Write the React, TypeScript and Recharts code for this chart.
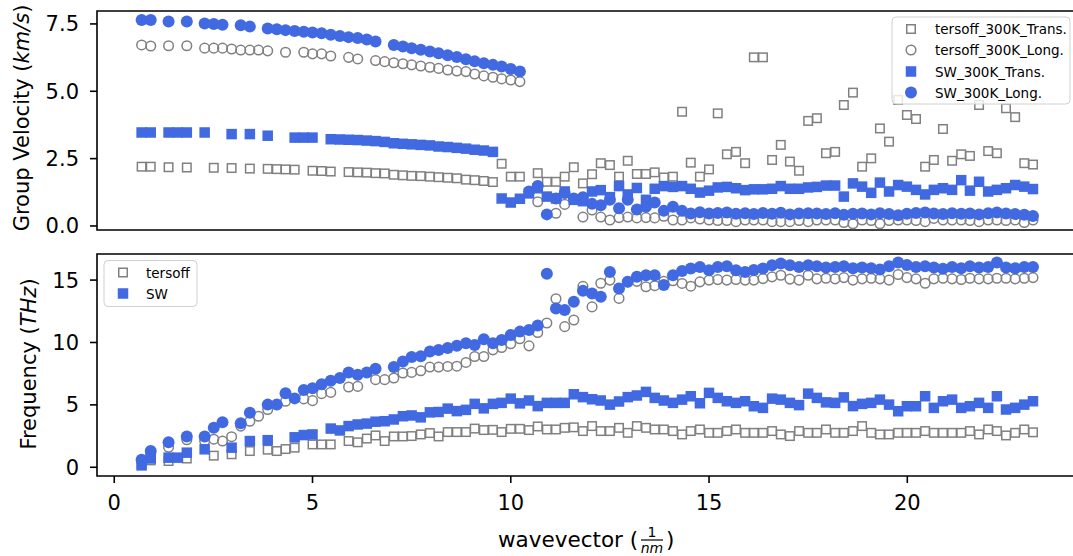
import React from "react"
import { ScatterChart, Scatter, XAxis, YAxis, ReferenceArea } from "recharts"

const FONT = "'DejaVu Sans', sans-serif"
const GREY = "#808080"
const BLUE = "#4169E1"

// wavevector grid (1/nm), shared by every series
const WAVEVECTOR = [
  0.69, 0.92, 1.14, 1.37, 1.6, 1.83, 2.05, 2.28, 2.51, 2.73,
  2.96, 3.19, 3.42, 3.64, 3.87, 4.1, 4.32, 4.55, 4.78, 5.0,
  5.23, 5.46, 5.69, 5.91, 6.14, 6.37, 6.59, 6.82, 7.05, 7.28,
  7.5, 7.73, 7.96, 8.18, 8.41, 8.64, 8.87, 9.09, 9.32, 9.55,
  9.77, 10.0, 10.23, 10.46, 10.68, 10.91, 11.14, 11.36, 11.59, 11.82,
  12.05, 12.27, 12.5, 12.73, 12.95, 13.18, 13.41, 13.63, 13.86, 14.09,
  14.32, 14.54, 14.77, 15.0, 15.22, 15.45, 15.68, 15.91, 16.13, 16.36,
  16.59, 16.81, 17.04, 17.27, 17.5, 17.72, 17.95, 18.18, 18.4, 18.63,
  18.86, 19.09, 19.31, 19.54, 19.77, 19.99, 20.22, 20.45, 20.67, 20.9,
  21.13, 21.36, 21.58, 21.81, 22.04, 22.26, 22.49, 22.72, 22.95, 23.17,
]

// group velocity (km/s)
const GV_TERSOFF_TRANS = [
  2.2, 2.2, null, 2.18, null, 2.17, null, null, 2.16, null,
  2.15, null, 2.13, null, 2.12, 2.11, 2.1, 2.09, null, 2.05,
  2.04, 2.02, null, 2.0, 1.99, 1.98, 1.96, 1.95, 1.9, 1.88,
  1.86, 1.85, 1.83, 1.81, 1.79, 1.77, 1.72, 1.7, 1.67, 1.63,
  2.31, 1.83, 1.83, null, 1.96, 1.64, 1.64, 1.83, 2.18, 1.58,
  1.92, 2.33, 2.26, 1.83, 2.42, 1.93, 1.93, 1.99, 1.8, 1.83,
  4.24, 2.35, 1.83, 2.1, 4.18, 2.66, 2.75, 2.33, 6.26, 6.26,
  2.45, 3.01, 2.39, 2.05, 3.9, 4.0, 2.7, 2.75, 4.49, 4.95,
  2.2, 2.51, 3.62, 3.13, 4.68, 4.12, 3.97, 2.2, 2.45, 3.6,
  2.42, 2.66, 2.6, 4.49, 2.78, 2.7, 4.37, 4.04, 2.33, 2.28,
]
const GV_TERSOFF_LONG = [
  6.72, 6.68, null, 6.69, null, 6.69, null, 6.6, 6.6, 6.6,
  6.57, 6.53, 6.53, 6.53, 6.5, null, 6.45, null, 6.45, 6.39,
  6.39, 6.31, null, 6.26, 6.2, null, 6.14, 6.1, 6.06, 6.02,
  5.98, 5.94, 5.89, 5.85, 5.79, 5.75, 5.73, 5.64, 5.57, 5.52,
  5.46, 5.42, 5.36, null, 0.9, null, 0.47, 0.8, null, 0.33,
  0.59, 0.33, 0.22, 0.31, 0.33, 0.3, 0.31, 0.3, 0.36, 0.22,
  0.22, 0.3, 0.26, 0.22, 0.2, 0.2, 0.16, 0.22, 0.22, 0.22,
  0.16, 0.16, 0.16, 0.2, 0.16, 0.22, 0.22, 0.22, 0.13, 0.08,
  0.22, 0.2, 0.08, 0.2, 0.22, 0.22, 0.2, 0.16, 0.28, 0.22,
  0.22, 0.22, 0.2, 0.16, 0.22, 0.22, 0.2, 0.22, 0.13, 0.22,
]
const GV_SW_TRANS = [
  3.47, 3.47, null, 3.47, 3.47, 3.47, null, 3.47, null, null,
  3.41, null, 3.41, null, 3.35, null, null, 3.28, 3.28, 3.28,
  null, 3.22, 3.21, 3.2, 3.19, 3.17, 3.15, 3.12, 3.07, 3.05,
  3.03, 3.01, 2.99, 2.95, 2.93, 2.9, 2.87, 2.83, 2.8, 2.75,
  1.02, 0.87, 1.01, 1.21, 1.4, 1.09, 1.02, 1.28, 0.97, 0.92,
  1.28, 1.33, 1.07, 1.48, 1.17, 1.41, 0.97, 1.38, 1.48, 1.45,
  1.48, 1.38, 1.24, 1.31, 1.43, 1.45, 1.4, 1.33, 1.36, 1.36,
  1.38, 1.48, 1.38, 1.38, 1.43, 1.45, 1.5, 1.5, 1.09, 1.58,
  1.46, 1.23, 1.61, 1.28, 1.52, 1.46, 1.34, 1.17, 1.34, 1.4,
  1.34, 1.7, 1.31, 1.64, 1.28, 1.34, 1.4, 1.52, 1.46, 1.37,
]
const GV_SW_LONG = [
  7.65, 7.65, null, 7.59, null, 7.59, null, 7.52, 7.5, 7.47,
  null, 7.45, 7.4, null, 7.33, 7.3, 7.27, 7.24, 7.21, 7.18,
  7.15, 7.1, 7.05, 7.01, 6.98, 6.92, 6.85, null, 6.72, 6.66,
  6.6, 6.54, 6.48, 6.41, 6.34, 6.27, 6.19, 6.11, 6.04, 5.98,
  5.92, 5.83, 5.73, 1.28, 1.48, 0.43, 1.02, 1.22, 1.02, 1.07,
  0.82, 0.77, 0.97, 0.66, 0.97, 0.61, 0.71, 0.87, 0.56, 0.71,
  0.56, 0.46, 0.51, 0.46, 0.48, 0.5, 0.45, 0.47, 0.44, 0.48,
  0.45, 0.49, 0.43, 0.46, 0.47, 0.46, 0.44, 0.47, 0.42, 0.45,
  0.46, 0.43, 0.47, 0.44, 0.4, 0.45, 0.48, 0.5, 0.46, 0.44,
  0.47, 0.45, 0.46, 0.43, 0.47, 0.5, 0.46, 0.44, 0.42, 0.37,
]

// frequency (THz)
const FREQ_TERSOFF_TRANS = [
  0.25, 0.55, null, 0.5, null, 0.7, null, null, 0.93, null,
  1.04, null, 1.3, null, 1.41, 1.3, 1.46, 1.57, null, 1.83,
  1.83, 1.83, null, 2.1, 2.0, 2.3, 2.55, 2.1, 2.47, 2.47,
  2.5, 2.63, 2.74, 2.47, 2.82, 2.82, 2.82, 3.1, 2.98, 3.0,
  2.82, 3.08, 3.08, 2.98, 3.27, 3.03, 3.03, 3.16, 3.2, 2.9,
  3.3, 2.9, 2.9, 3.16, 2.76, 3.3, 3.16, 3.03, 3.03, 2.9,
  2.63, 2.9, 3.03, 2.76, 2.76, 2.9, 3.03, 2.76, 2.76, 2.76,
  2.9, 2.63, 2.5, 2.9, 2.76, 2.76, 3.03, 2.76, 2.76, 2.9,
  3.3, 2.76, 2.63, 2.63, 2.76, 2.76, 2.76, 2.9, 2.76, 2.76,
  2.76, 2.76, 2.9, 2.63, 3.03, 2.9, 2.55, 2.76, 3.03, 2.8,
]
const FREQ_TERSOFF_LONG = [
  0.5, 1.1, null, 1.6, null, 2.2, null, 2.1, 2.25, 2.1,
  2.45, 3.3, 3.69, 4.09, 4.63, 5.02, 5.29, null, 5.48, 5.34,
  5.9, 6.0, null, 6.43, 6.48, null, 7.02, 7.02, 7.15, 7.55,
  7.6, 7.73, 8.03, 8.03, 8.08, 8.1, 8.4, 8.88, 8.88, 9.41,
  9.6, 9.9, 10.3, 9.73, 10.8, 11.56, 13.5, 11.27, 11.8, 14.5,
  12.85, 14.75, 15.0, 13.53, 14.86, 14.9, 14.46, 14.55, 14.9, 14.95,
  14.73, 14.51, 14.86, 15.0, 15.04, 15.0, 15.05, 15.0, 15.0, 15.12,
  15.26, 15.39, 15.08, 15.0, 15.39, 15.1, 15.15, 15.1, 15.2, 15.0,
  15.1, 15.15, 15.1, 15.0, 15.45, 15.2, 15.1, 14.75, 15.1, 15.15,
  15.1, 15.05, 15.15, 15.1, 15.1, 15.15, 15.15, 15.1, 15.15, 15.2,
]
const FREQ_SW_TRANS = [
  0.15, 0.7, null, 0.77, 0.77, 1.17, null, 1.44, null, null,
  1.57, null, 2.1, null, 2.17, null, null, 2.4, 2.58, 2.63,
  null, 3.1, 2.95, 3.3, 3.43, 3.5, 3.65, 3.69, 3.83, 4.09,
  4.15, 4.0, 4.4, 4.43, 4.7, 4.5, 4.6, 5.08, 4.72, 5.08,
  5.16, 5.5, 5.12, 5.35, 4.9, 5.16, 5.16, 5.16, 5.85, 5.62,
  5.45, 5.35, 5.02, 5.27, 5.62, 5.75, 6.04, 5.56, 5.35, 5.16,
  5.42, 5.69, 5.13, 5.96, 5.56, 5.29, 5.16, 5.29, 4.89, 4.76,
  5.5, 5.42, 5.16, 4.98, 5.9, 5.56, 5.2, 5.16, 5.6, 4.9,
  5.08, 5.16, 5.42, 5.02, 4.49, 4.89, 4.89, 5.69, 4.76, 5.29,
  5.42, 4.76, 4.89, 5.16, 4.76, 5.69, 4.63, 4.76, 5.02, 5.29,
]
const FREQ_SW_LONG = [
  0.6, 1.3, null, 2.0, null, 2.47, null, 2.47, 3.17, 3.6,
  null, 3.53, 4.36, null, 5.02, 5.02, 5.93, 5.52, 6.2, 6.34,
  6.65, 6.94, 7.15, 7.59, 7.42, 7.6, 7.9, null, 8.04, 8.48,
  8.83, 8.9, 9.27, 9.4, 9.55, 9.73, 9.94, 9.8, 10.26, 9.94,
  10.2, 10.6, 10.87, 11.0, 11.36, 15.5, 12.73, 12.6, 13.26, 14.14,
  13.93, 13.66, 15.65, 14.33, 14.86, 15.26, 15.39, 15.39, 14.6, 15.39,
  15.73, 15.92, 16.05, 15.79, 16.05, 16.1, 15.79, 15.65, 15.8, 15.92,
  16.19, 16.32, 16.19, 16.05, 16.19, 16.1, 16.0, 16.05, 16.1, 15.95,
  16.0, 15.95, 15.85, 16.1, 16.4, 16.2, 16.05, 16.1, 16.0, 15.9,
  16.05, 15.95, 16.1, 16.0, 16.05, 16.4, 16.0, 15.95, 16.05, 16.05,
]

const X_DOMAIN: [number, number] = [-0.435, 24.28]
const X_TICKS = [0, 5, 10, 15, 20]
const GV_DOMAIN: [number, number] = [-0.15, 7.98]
const GV_TICKS = [0, 2.5, 5, 7.5]
const FREQ_DOMAIN: [number, number] = [-0.7, 17.09]
const FREQ_TICKS = [0, 5, 10, 15]

const pts = (ys: (number | null)[]) =>
  WAVEVECTOR.map((x, i) => ({ x, y: ys[i] })).filter(p => p.y !== null)

const OpenSquare = (p: any) => (
  <rect x={p.cx - 4.25} y={p.cy - 4.25} width={8.5} height={8.5} fill="none" stroke={GREY} strokeWidth={1.5} />
)
const OpenCircle = (p: any) => (
  <circle cx={p.cx} cy={p.cy} r={4.8} fill="none" stroke={GREY} strokeWidth={1.5} />
)
const BlueSquare = (p: any) => (
  <rect x={p.cx - 5.25} y={p.cy - 5.25} width={10.5} height={10.5} fill={BLUE} />
)
const BlueCircle = (p: any) => <circle cx={p.cx} cy={p.cy} r={6} fill={BLUE} />

const tickStyle = { fill: "#000", fontSize: 21, fontFamily: FONT }
const tickLine = { stroke: "#000", strokeWidth: 1.6 }

export default function App() {
  return (
    <div style={{ position: "absolute", left: 0, top: 0, width: 1073, height: 556, overflow: "hidden", background: "#fff" }}>
      {/* group velocity panel */}
      <div style={{ position: "absolute", left: 0, top: 0 }}>
        <ScatterChart width={1080} height={240} margin={{ top: 11, right: 3, bottom: 10, left: 0 }}>
          <XAxis type="number" dataKey="x" domain={X_DOMAIN} allowDataOverflow hide />
          <YAxis
            type="number"
            dataKey="y"
            domain={GV_DOMAIN}
            allowDataOverflow
            ticks={GV_TICKS}
            interval={0}
            tickFormatter={(v: number) => v.toFixed(1)}
            width={97}
            axisLine={false}
            tickSize={7}
            tickMargin={11}
            tickLine={tickLine}
            tick={tickStyle}
          />
          <ReferenceArea x1={X_DOMAIN[0]} x2={X_DOMAIN[1]} y1={GV_DOMAIN[0]} y2={GV_DOMAIN[1]} fill="none" stroke="#000" strokeWidth={1.6} />
          <Scatter data={pts(GV_TERSOFF_TRANS)} shape={OpenSquare} isAnimationActive={false} />
          <Scatter data={pts(GV_TERSOFF_LONG)} shape={OpenCircle} isAnimationActive={false} />
          <Scatter data={pts(GV_SW_TRANS)} shape={BlueSquare} isAnimationActive={false} />
          <Scatter data={pts(GV_SW_LONG)} shape={BlueCircle} isAnimationActive={false} />
        </ScatterChart>
      </div>

      {/* frequency panel */}
      <div style={{ position: "absolute", left: 0, top: 240 }}>
        <ScatterChart width={1080} height={316} margin={{ top: 14, right: 3, bottom: 20, left: 0 }}>
          <XAxis
            type="number"
            dataKey="x"
            domain={X_DOMAIN}
            allowDataOverflow
            ticks={X_TICKS}
            interval={0}
            height={60}
            axisLine={false}
            tickSize={7}
            tickMargin={12}
            tickLine={tickLine}
            tick={tickStyle}
          />
          <YAxis
            type="number"
            dataKey="y"
            domain={FREQ_DOMAIN}
            allowDataOverflow
            ticks={FREQ_TICKS}
            interval={0}
            width={97}
            axisLine={false}
            tickSize={7}
            tickMargin={11}
            tickLine={tickLine}
            tick={tickStyle}
          />
          <ReferenceArea x1={X_DOMAIN[0]} x2={X_DOMAIN[1]} y1={FREQ_DOMAIN[0]} y2={FREQ_DOMAIN[1]} fill="none" stroke="#000" strokeWidth={1.6} />
          <Scatter data={pts(FREQ_TERSOFF_TRANS)} shape={OpenSquare} isAnimationActive={false} />
          <Scatter data={pts(FREQ_TERSOFF_LONG)} shape={OpenCircle} isAnimationActive={false} />
          <Scatter data={pts(FREQ_SW_TRANS)} shape={BlueSquare} isAnimationActive={false} />
          <Scatter data={pts(FREQ_SW_LONG)} shape={BlueCircle} isAnimationActive={false} />
        </ScatterChart>
      </div>

      {/* axis titles and legends */}
      <svg width={1073} height={556} style={{ position: "absolute", left: 0, top: 0, pointerEvents: "none" }} fontFamily={FONT}>
        <text transform="translate(22,118) rotate(-90)" textAnchor="middle" dominantBaseline="central" fontSize={21} fill="#000">
          Group Velocity (<tspan fontStyle="italic">km/s</tspan>)
        </text>
        <text transform="translate(28.5,364) rotate(-90)" textAnchor="middle" dominantBaseline="central" fontSize={21} fill="#000">
          Frequency (<tspan fontStyle="italic">THz</tspan>)
        </text>

        <text x={498} y={546.5} fontSize={21.5} fill="#000">wavevector (</text>
        <text x={652} y={536.5} fontSize={14} textAnchor="middle" fill="#000">1</text>
        <line x1={641} x2={663} y1={540} y2={540} stroke="#000" strokeWidth={1.2} />
        <text x={652} y={553} fontSize={14} textAnchor="middle" fontStyle="italic" fill="#000">nm</text>
        <text x={666} y={546.5} fontSize={21.5} fill="#000">)</text>

        <g>
          <rect x={892} y={17} width={178} height={87} rx={4} fill="#fff" fillOpacity={0.8} stroke="#d0d0d0" />
          <rect x={906.75} y={24.75} width={8.5} height={8.5} fill="none" stroke={GREY} strokeWidth={1.5} />
          <circle cx={911} cy={50} r={4.8} fill="none" stroke={GREY} strokeWidth={1.5} />
          <rect x={905.75} y={66.25} width={10.5} height={10.5} fill={BLUE} />
          <circle cx={911} cy={92.5} r={6} fill={BLUE} />
          <text x={935} y={29} fontSize={13.5} dominantBaseline="central" fill="#000">tersoff_300K_Trans.</text>
          <text x={935} y={50} fontSize={13.5} dominantBaseline="central" fill="#000">tersoff_300K_Long.</text>
          <text x={935} y={71.5} fontSize={13.5} dominantBaseline="central" fill="#000">SW_300K_Trans.</text>
          <text x={935} y={92.5} fontSize={13.5} dominantBaseline="central" fill="#000">SW_300K_Long.</text>
        </g>

        <g>
          <rect x={104} y={260.5} width={93} height={46} rx={4} fill="#fff" fillOpacity={0.8} stroke="#d0d0d0" />
          <rect x={118.75} y={268.25} width={8.5} height={8.5} fill="none" stroke={GREY} strokeWidth={1.5} />
          <rect x={117.75} y={288.25} width={10.5} height={10.5} fill={BLUE} />
          <text x={146} y={272.5} fontSize={13.5} dominantBaseline="central" fill="#000">tersoff</text>
          <text x={146} y={293.5} fontSize={13.5} dominantBaseline="central" fill="#000">SW</text>
        </g>
      </svg>
    </div>
  )
}
